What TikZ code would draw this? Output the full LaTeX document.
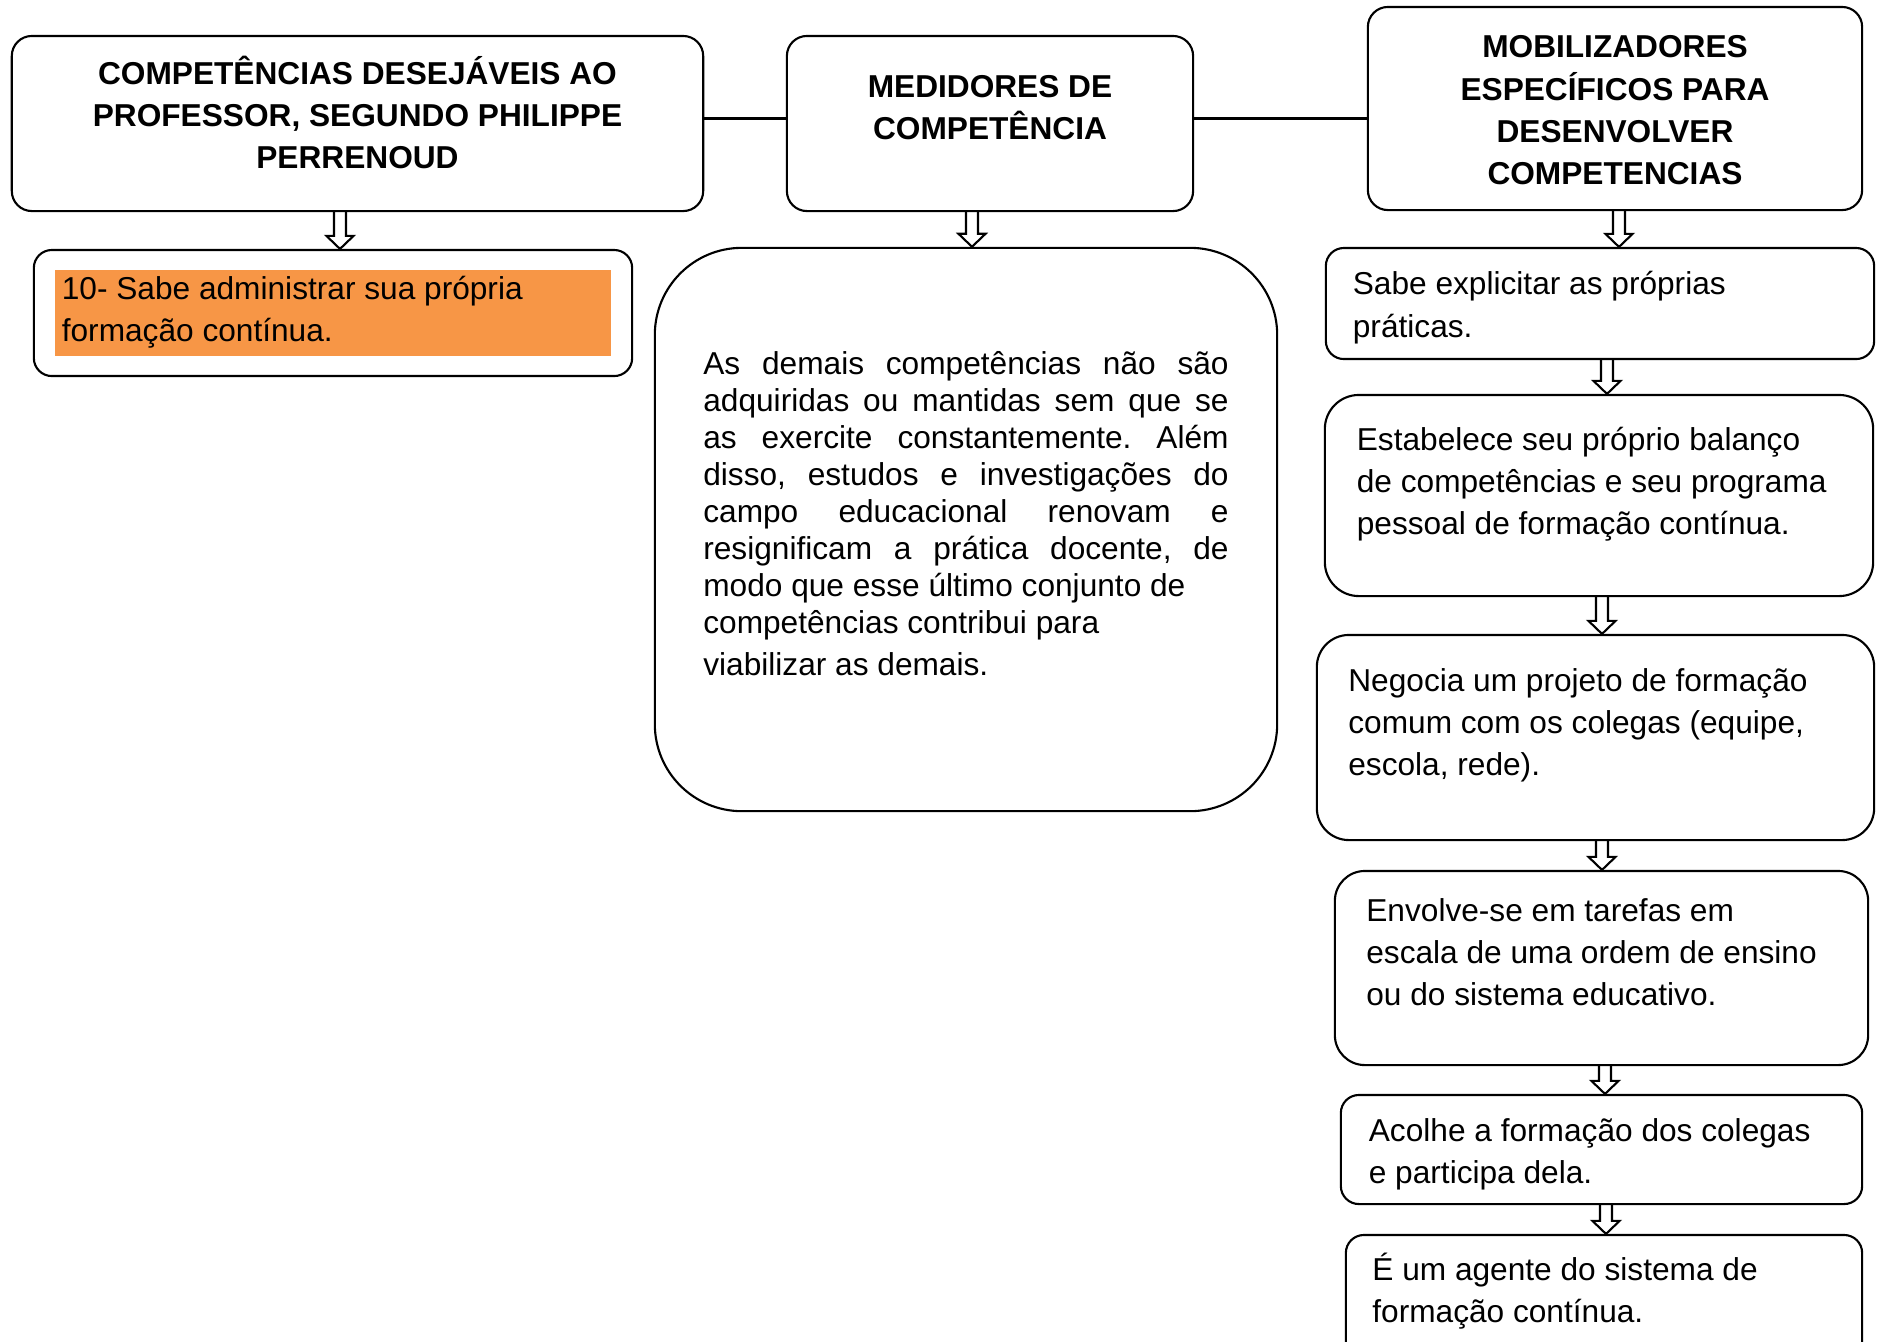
\documentclass[tikz,border=0pt]{standalone}
\usepackage{fontspec}
\setmainfont{Liberation Sans}
\usepackage{tikz}
\usetikzlibrary{calc, positioning}

\definecolor{orangefill}{HTML}{F79646}
\setlength{\fboxsep}{0pt}
\frenchspacing

% text block at the top of a box: height, width, top skip, text
\newcommand{\boxtxt}[4]{\parbox[c][#1][t]{#2}{\vspace*{#3}\strut #4}}

% hollow block arrow from a point down to a node
\newcommand{\hollowarrow}[2]{%
  \draw let \p1=(#1), \p2=(#2) in
    (\x1-0.06cm,\y1) -- (\x1-0.06cm,\y2+0.13cm) -- (\x1-0.135cm,\y2+0.13cm)
    -- (\x1,\y2) -- (\x1+0.135cm,\y2+0.13cm) -- (\x1+0.06cm,\y2+0.13cm)
    -- (\x1+0.06cm,\y1);
}

\begin{document}
\begin{tikzpicture}[x=0.01cm, y=-0.01cm, line width=0.6pt,
  head/.style={draw, rounded corners=0.2cm, inner sep=0pt, font=\bfseries\fontsize{9}{12}\selectfont},
  item/.style={draw, rounded corners=0.18cm, inner sep=0pt, font=\fontsize{9}{11.95}\selectfont}]

\useasboundingbox (0,0) rectangle (1878,1341);
\clip (0,0) rectangle (1878,1341);

% headers
\node[head, minimum width=6.91cm, minimum height=1.75cm] (H1) at (357.5,123.5)
  {\boxtxt{1.75cm}{6.91cm}{5.3pt}{\centering COMPETÊNCIAS DESEJÁVEIS AO\\PROFESSOR, SEGUNDO PHILIPPE\\PERRENOUD}};
\node[head, minimum width=4.06cm, minimum height=1.75cm] (H2) at (990,123.5)
  {\boxtxt{1.75cm}{4.06cm}{9pt}{\centering MEDIDORES DE\\COMPETÊNCIA}};
\node[head, minimum width=4.94cm, minimum height=2.03cm] (H3) at (1615,108.5)
  {\boxtxt{2.03cm}{4.94cm}{6.1pt}{\centering MOBILIZADORES\\ESPECÍFICOS PARA\\DESENVOLVER\\COMPETENCIAS}};

% left and middle
\node[item, minimum width=5.98cm, minimum height=1.26cm] (P1) at (333,313)
  {\colorbox{orangefill}{\boxtxt{0.86cm}{5.56cm}{0pt}{\raggedright\leftskip=0.07cm\relax
   10- Sabe administrar sua própria\\formação contínua.}}};
\node[item, rounded corners=0.87cm, minimum width=6.22cm, minimum height=5.63cm,
  font=\fontsize{9}{10.53}\selectfont] (T1) at (966,529.5)
  {\boxtxt{5.63cm}{5.25cm}{28.5pt}{%
   \makebox[\linewidth][s]{As demais competências não são}\\
   \makebox[\linewidth][s]{adquiridas ou mantidas sem que se}\\
   \makebox[\linewidth][s]{as exercite constantemente. Além}\\
   \makebox[\linewidth][s]{disso, estudos e investigações do}\\
   \makebox[\linewidth][s]{campo educacional renovam e}\\
   \makebox[\linewidth][s]{resignificam a prática docente, de}\\
   modo que esse último conjunto de\\
   competências contribui para\\[0.05cm]
   viabilizar as demais.}};

% right column
\node[item, minimum width=5.48cm, minimum height=1.11cm] (M1) at (1600,303.5)
  {\boxtxt{1.11cm}{4.94cm}{5pt}{\raggedright Sabe explicitar as próprias\\práticas.}};
\node[item, rounded corners=0.34cm, minimum width=5.48cm, minimum height=2.01cm] (M2) at (1599,495.5)
  {\boxtxt{2.01cm}{4.84cm}{7.4pt}{\raggedright Estabelece seu próprio balanço\\de competências e seu programa\\pessoal de formação contínua.}};
\node[item, rounded corners=0.32cm, minimum width=5.57cm, minimum height=2.05cm] (M3) at (1595.5,737.5)
  {\boxtxt{2.05cm}{4.94cm}{7.6pt}{\raggedright Negocia um projeto de formação\\comum com os colegas (equipe,\\escola, rede).}};
\node[item, rounded corners=0.3cm, minimum width=5.33cm, minimum height=1.94cm] (M4) at (1601.5,968)
  {\boxtxt{1.94cm}{4.70cm}{5.9pt}{\raggedright Envolve-se em tarefas em\\escala de uma ordem de ensino\\ou do sistema educativo.}};
\node[item, minimum width=5.21cm, minimum height=1.09cm] (M5) at (1601.5,1149.5)
  {\boxtxt{1.09cm}{4.65cm}{4.9pt}{\raggedright Acolhe a formação dos colegas\\e participa dela.}};
\node[item, minimum width=5.16cm, minimum height=1.25cm] (M6) at (1604,1297.5)
  {\boxtxt{1.25cm}{4.63cm}{4.6pt}{\raggedright É um agente do sistema de\\formação contínua.}};

% lines
\draw ([yshift=0.05cm]H1.east) -- ([yshift=0.05cm]H2.west);
\draw ([yshift=0.05cm]H2.east) -- ([yshift=0.05cm]H2.east -| H3.west);

% arrows
\hollowarrow{[xshift=-0.175cm]H1.south}{P1.north}
\hollowarrow{[xshift=-0.18cm]H2.south}{T1.north}
\hollowarrow{[xshift=0.04cm]H3.south}{M1.north}
\hollowarrow{[xshift=0.07cm]M1.south}{M2.north}
\hollowarrow{[xshift=0.03cm]M2.south}{M3.north}
\hollowarrow{[xshift=0.065cm]M3.south}{M4.north}
\hollowarrow{[xshift=0.035cm]M4.south}{M5.north}
\hollowarrow{[xshift=0.045cm]M5.south}{M6.north}

\end{tikzpicture}
\end{document}
